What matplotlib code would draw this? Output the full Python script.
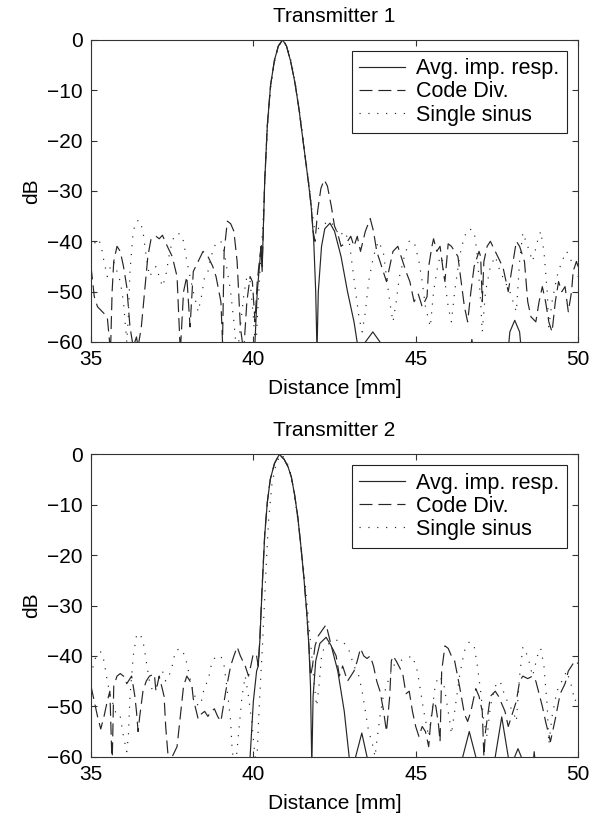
import numpy as np
import matplotlib
matplotlib.use("Agg")
import matplotlib.pyplot as plt

plt.rcParams['font.family'] = ['Liberation Sans', 'DejaVu Sans']
plt.rcParams['font.size'] = 15

# values, (distance mm, dB); below -60 is off the axes
t1_avg = [(35.0, -70), (39.95, -70), (40.05, -60), (40.12, -50), (40.2, -44), (40.24, -41),
          (40.27, -46), (40.3, -39), (40.35, -28), (40.43, -17), (40.53, -9), (40.65, -4),
          (40.77, -1.2), (40.9, 0), (41.02, -1.2), (41.15, -4.3), (41.28, -8.5), (41.4, -13.5),
          (41.5, -18.5), (41.6, -23.5), (41.7, -28.5), (41.78, -33), (41.86, -40), (41.92, -50),
          (41.96, -62), (42.0, -50), (42.1, -41), (42.2, -37.5), (42.36, -36.4), (42.5, -38),
          (42.7, -43), (42.9, -50), (43.1, -56), (43.22, -61), (43.3, -65), (43.45, -60),
          (43.68, -58), (43.9, -60), (44.0, -65), (46.6, -65), (46.73, -59.5), (46.85, -65),
          (47.8, -65), (47.9, -58), (48.05, -55.7), (48.2, -58), (48.3, -65), (50.0, -70)]

t1_code = [(35.0, -45), (35.1, -51), (35.2, -53), (35.35, -54), (35.5, -55), (35.6, -62),
           (35.65, -50), (35.7, -44), (35.8, -41), (35.9, -42), (36.0, -45), (36.1, -49),
           (36.2, -57), (36.3, -61), (36.4, -59), (36.45, -61), (36.55, -57), (36.65, -50),
           (36.75, -43), (36.85, -39.5), (37.0, -39), (37.1, -39.5), (37.2, -38.8), (37.35, -41),
           (37.5, -43), (37.65, -47), (37.75, -62), (37.85, -50), (37.95, -47), (38.05, -57),
           (38.15, -46), (38.3, -44), (38.45, -42), (38.6, -43), (38.75, -45), (38.85, -47),
           (39.0, -52), (39.05, -60), (39.1, -42), (39.2, -36), (39.3, -36.5), (39.4, -38),
           (39.5, -44), (39.6, -57), (39.7, -62), (39.8, -52), (39.9, -47), (39.97, -48),
           (40.05, -56), (40.12, -48), (40.2, -43), (40.24, -41), (40.27, -45), (40.3, -39),
           (40.35, -28), (40.43, -17), (40.53, -9), (40.65, -4), (40.77, -1.2), (40.9, 0),
           (41.02, -1.2), (41.15, -4.3), (41.28, -8.5), (41.4, -13.5), (41.5, -18.5), (41.6, -23.5),
           (41.7, -28.5), (41.78, -33), (41.84, -38), (41.9, -40), (41.98, -34), (42.08, -29.5),
           (42.18, -27.8), (42.28, -29), (42.4, -33), (42.5, -37), (42.6, -38.5),
           (42.7, -41), (42.8, -40.5), (42.9, -40), (43.0, -39), (43.1, -41), (43.2, -39),
           (43.3, -42), (43.45, -38), (43.6, -35.5), (43.7, -38), (43.8, -42), (43.9, -44),
           (44.0, -46), (44.1, -48), (44.2, -45), (44.3, -42), (44.45, -41), (44.55, -43),
           (44.7, -46), (44.82, -48), (44.95, -52), (45.08, -50.5), (45.2, -53), (45.35, -51),
           (45.4, -45), (45.5, -41), (45.55, -39.5), (45.65, -42), (45.75, -41), (45.85, -46),
           (45.9, -48), (46.0, -40.5), (46.1, -41), (46.2, -42), (46.3, -43), (46.4, -48),
           (46.5, -53), (46.6, -56), (46.7, -50), (46.8, -45), (46.95, -42), (47.0, -43),
           (47.05, -52), (47.1, -44), (47.2, -41), (47.3, -40), (47.45, -42), (47.6, -44),
           (47.7, -45.5), (47.85, -50), (47.95, -46), (48.05, -42), (48.1, -40), (48.2, -41),
           (48.35, -44), (48.45, -52), (48.55, -55), (48.7, -56), (48.8, -52), (48.9, -49),
           (49.0, -52), (49.1, -56), (49.2, -58), (49.3, -52), (49.4, -48), (49.5, -50),
           (49.6, -49), (49.7, -54), (49.8, -50), (49.85, -46), (49.95, -44), (50.0, -45)]

t1_sinus = [(35.0, -42), (35.1, -40.5), (35.2, -39.5), (35.3, -40.5), (35.4, -44), (35.5, -47),
            (35.6, -45), (35.7, -44), (35.8, -46), (35.9, -48), (36.0, -52), (36.1, -60),
            (36.15, -55), (36.2, -46), (36.3, -38), (36.4, -36), (36.5, -35.8), (36.6, -38),
            (36.7, -43), (36.8, -47), (36.9, -46), (37.0, -45), (37.1, -47), (37.2, -49),
            (37.3, -47), (37.4, -43), (37.5, -40), (37.6, -38.5), (37.75, -38.5), (37.85, -40),
            (37.95, -44), (38.05, -47), (38.15, -50), (38.3, -54), (38.4, -51), (38.5, -47),
            (38.6, -46), (38.7, -43), (38.8, -41), (38.9, -40), (39.0, -40), (39.1, -42),
            (39.2, -46), (39.3, -50), (39.4, -56), (39.5, -63), (39.6, -57), (39.7, -51),
            (39.8, -47), (39.9, -48), (40.0, -55), (40.07, -62), (40.15, -52), (40.22, -44),
            (40.29, -37), (40.36, -27), (40.45, -16), (40.55, -8.5), (40.67, -3.8), (40.79, -1.1),
            (40.92, 0), (41.04, -1.2), (41.17, -4.4), (41.3, -8.8), (41.42, -14), (41.52, -19),
            (41.62, -24), (41.72, -29), (41.8, -33.5), (41.88, -37.5), (41.95, -38), (42.05, -37),
            (42.2, -36.5), (42.35, -36), (42.5, -37), (42.65, -39), (42.8, -38), (42.95, -40),
            (43.05, -45), (43.15, -50), (43.25, -55), (43.35, -58), (43.45, -54), (43.55, -48),
            (43.7, -43), (43.85, -40), (44.0, -42), (44.1, -47), (44.2, -52), (44.3, -56),
            (44.4, -52), (44.5, -47), (44.65, -43), (44.8, -40), (44.95, -40), (45.1, -44),
            (45.2, -48), (45.3, -53), (45.45, -57), (45.55, -50), (45.7, -44), (45.8, -43),
            (45.9, -48), (46.0, -53), (46.1, -56), (46.2, -50), (46.35, -43), (46.5, -39),
            (46.65, -37.5), (46.8, -38), (46.9, -43), (47.0, -52), (47.05, -58), (47.15, -50),
            (47.3, -45), (47.45, -43), (47.6, -46), (47.75, -48), (47.9, -50), (48.0, -52),
            (48.1, -54), (48.2, -44), (48.3, -38.3), (48.45, -41), (48.6, -44), (48.75, -40),
            (48.85, -38), (48.95, -42), (49.05, -50), (49.1, -57), (49.2, -52), (49.35, -47),
            (49.5, -44), (49.65, -42), (49.8, -44), (49.9, -46), (50.0, -47)]

t2_avg = [(35.0, -70), (39.85, -70), (39.9, -60), (40.0, -49), (40.1, -43), (40.15, -42),
          (40.2, -37), (40.26, -28), (40.35, -16), (40.43, -9.5), (40.52, -5), (40.65, -1.8),
          (40.8, 0), (40.95, -1), (41.07, -2.5), (41.17, -4.5), (41.27, -8), (41.37, -12.5),
          (41.46, -18), (41.55, -24), (41.64, -31), (41.71, -38), (41.76, -46), (41.8, -62),
          (41.84, -48), (41.92, -41), (42.05, -37.5), (42.24, -36.3), (42.4, -38), (42.6, -43),
          (42.8, -51), (42.95, -60), (43.05, -66), (43.15, -60), (43.34, -55.3), (43.5, -60),
          (43.6, -66), (46.35, -66), (46.45, -60), (46.65, -55), (46.85, -60), (46.95, -66),
          (47.35, -66), (47.45, -60), (47.65, -52.1), (47.85, -60), (47.95, -66), (48.05, -60),
          (48.15, -58.4), (48.25, -60), (48.35, -66), (48.55, -66), (48.65, -59), (48.75, -66),
          (50.0, -70)]

t2_code = [(35.0, -46), (35.1, -49), (35.2, -52), (35.3, -54.5), (35.4, -52), (35.5, -49),
           (35.58, -47), (35.65, -62), (35.7, -46), (35.8, -44), (35.9, -43.5), (36.0, -44),
           (36.1, -45.5), (36.25, -44), (36.35, -48), (36.4, -51), (36.45, -55), (36.5, -52),
           (36.6, -47), (36.7, -45), (36.8, -44), (36.95, -43.6), (37.0, -47), (37.1, -44),
           (37.25, -48), (37.3, -54), (37.4, -62), (37.5, -60), (37.65, -58), (37.75, -52),
           (37.85, -46), (37.95, -44), (38.1, -45.5), (38.15, -48.5), (38.3, -52.5), (38.4, -51.5),
           (38.5, -51), (38.6, -52), (38.7, -51), (38.8, -50.5), (38.9, -52), (39.0, -53),
           (39.15, -47), (39.3, -42), (39.4, -40), (39.5, -38.2), (39.6, -40), (39.75, -42),
           (39.85, -44), (39.92, -42), (40.0, -39.5), (40.1, -40), (40.15, -42), (40.2, -36.5),
           (40.26, -27.5), (40.35, -15.8), (40.43, -9.5), (40.52, -5), (40.65, -1.8), (40.8, 0),
           (40.95, -1), (41.07, -2.5), (41.17, -4.5), (41.27, -8), (41.37, -12.5), (41.46, -18),
           (41.55, -24), (41.64, -31), (41.71, -38), (41.76, -44), (41.82, -42), (41.9, -38),
           (42.0, -36), (42.24, -33.8), (42.4, -38), (42.55, -40), (42.65, -44), (42.75, -42),
           (42.9, -45), (43.0, -44), (43.1, -43), (43.2, -41), (43.3, -38.5), (43.4, -40),
           (43.5, -40.5), (43.6, -40), (43.7, -42), (43.8, -45), (43.9, -47), (44.0, -50.5),
           (44.1, -55), (44.2, -48), (44.25, -41), (44.3, -40), (44.4, -41), (44.6, -43.5),
           (44.7, -47.5), (44.8, -47), (44.9, -51), (45.0, -54), (45.1, -56), (45.2, -54),
           (45.3, -55), (45.4, -58), (45.45, -54), (45.55, -49), (45.62, -50), (45.7, -53.5),
           (45.75, -57), (45.8, -43), (45.9, -38), (46.0, -38.5), (46.1, -40), (46.2, -41),
           (46.35, -46), (46.5, -51.5), (46.6, -53), (46.7, -51), (46.85, -46.5), (46.95, -48),
           (47.05, -51), (47.1, -60), (47.15, -55), (47.3, -48), (47.45, -47), (47.55, -48),
           (47.65, -49.5), (47.75, -51), (47.85, -54), (47.95, -52), (48.1, -49), (48.2, -45),
           (48.3, -44), (48.45, -44.5), (48.6, -44), (48.7, -45), (48.8, -47.5), (48.9, -50),
           (49.0, -53), (49.15, -57), (49.3, -52.5), (49.45, -47.5), (49.6, -45.5), (49.7, -43),
           (49.8, -42), (49.9, -41), (50.0, -41.5)]

t2_sinus = [(35.0, -44), (35.1, -41), (35.2, -39.5), (35.3, -39.2), (35.4, -41), (35.5, -45),
            (35.6, -48), (35.7, -50), (35.8, -52), (35.9, -52), (36.0, -56), (36.1, -59),
            (36.15, -56), (36.2, -48), (36.3, -40), (36.4, -36), (36.5, -35.5), (36.6, -37),
            (36.7, -41), (36.8, -45), (36.9, -47), (37.0, -46), (37.1, -44), (37.2, -43),
            (37.3, -45), (37.4, -44), (37.5, -42), (37.6, -39), (37.75, -38.5), (37.9, -40),
            (38.0, -43), (38.1, -46), (38.2, -48), (38.3, -50), (38.4, -49), (38.5, -46),
            (38.6, -45), (38.7, -42), (38.8, -40.5), (38.9, -40), (39.0, -40), (39.1, -42),
            (39.2, -47), (39.3, -53), (39.35, -59), (39.45, -62), (39.55, -55), (39.65, -48),
            (39.75, -44), (39.85, -48), (39.95, -53), (40.02, -58), (40.1, -62), (40.18, -50),
            (40.28, -38), (40.38, -24), (40.47, -13), (40.57, -6), (40.7, -1.8), (40.85, 0),
            (41.0, -1), (41.12, -3), (41.25, -7.5), (41.37, -13), (41.48, -19), (41.6, -26),
            (41.7, -33), (41.8, -40), (41.88, -46), (41.95, -50), (42.02, -46), (42.1, -40),
            (42.2, -38), (42.35, -37.5), (42.5, -37), (42.65, -36.8), (42.8, -37.5), (42.95, -39),
            (43.1, -42), (43.25, -44), (43.35, -47), (43.45, -51), (43.55, -55), (43.65, -57),
            (43.75, -60), (43.8, -57), (43.9, -52), (44.0, -48), (44.15, -45), (44.3, -42),
            (44.5, -41), (44.7, -40.5), (44.9, -40), (45.05, -43), (45.15, -47), (45.25, -51),
            (45.4, -56), (45.5, -51), (45.6, -46), (45.7, -44), (45.85, -45), (45.95, -49),
            (46.05, -53), (46.1, -55.5), (46.2, -51), (46.35, -44), (46.5, -39), (46.65, -37.2),
            (46.8, -38), (46.9, -42), (47.0, -47), (47.1, -53), (47.2, -56), (47.3, -50),
            (47.45, -46), (47.6, -45), (47.75, -48), (47.9, -50), (48.0, -51), (48.1, -53),
            (48.2, -44), (48.3, -38.2), (48.45, -40), (48.6, -44), (48.75, -40), (48.85, -38.5),
            (48.95, -42), (49.05, -50), (49.1, -57.5), (49.2, -52), (49.35, -47), (49.5, -45),
            (49.65, -43), (49.8, -46), (49.9, -49), (50.0, -48)]

titles = ['Transmitter 1', 'Transmitter 2']
labels = ['Avg. imp. resp.', 'Code Div.', 'Single sinus']
x_ticks = [35, 40, 45, 50]
y_ticks = [0, -10, -20, -30, -40, -50, -60]

line_col = '#262626'

fig = plt.figure(figsize=(6.0, 8.15), dpi=100)
ax1 = fig.add_axes([0.1517, 0.5804, 0.8117, 0.3706])
ax2 = fig.add_axes([0.1517, 0.0715, 0.8117, 0.3710])

for ax, title, series in [(ax1, titles[0], (t1_avg, t1_code, t1_sinus)),
                          (ax2, titles[1], (t2_avg, t2_code, t2_sinus))]:
    avg, code, sinus = [np.array(s).T for s in series]
    ax.plot(avg[0], avg[1], color=line_col, lw=0.85, label=labels[0])
    ax.plot(code[0], code[1], color=line_col, lw=0.85, dashes=(11, 5), label=labels[1])
    ax.plot(sinus[0], sinus[1], color=line_col, lw=0.85, dashes=(1.0, 6.5), label=labels[2])

    ax.set_xlim(35, 50)
    ax.set_ylim(-60, 0)
    ax.set_xticks(x_ticks)
    ax.set_yticks(y_ticks)
    ax.tick_params(direction='in', length=4, width=0.8, top=True, right=True,
                   labelsize=15, pad=6, color='#333333')
    for sp in ax.spines.values():
        sp.set_color('#333333')
        sp.set_linewidth(0.8)
    ax.set_title(title, fontsize=15, pad=13)
    ax.set_xlabel('Distance [mm]', fontsize=15, labelpad=7)
    ax.set_ylabel('dB', fontsize=15, labelpad=4)
    leg = ax.legend(loc='upper right', fontsize=15.5, fancybox=False, framealpha=1,
                    edgecolor='#222222', borderaxespad=0.5, handlelength=2.1,
                    handletextpad=0.55, labelspacing=0.1, borderpad=0.35)
    leg.get_frame().set_linewidth(0.8)

fig.savefig('out.png', dpi=100)
